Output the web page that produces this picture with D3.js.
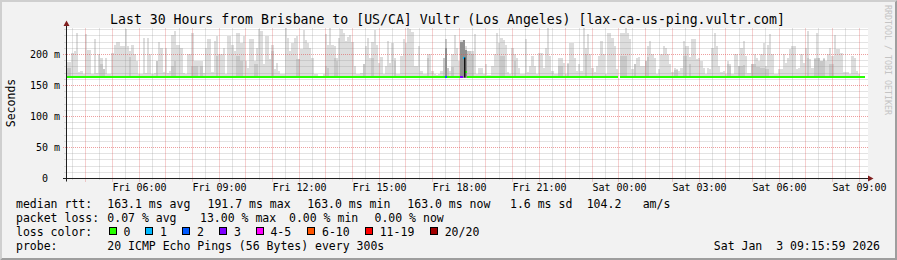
<!DOCTYPE html>
<html>
<head>
<meta charset="utf-8">
<title>SmokePing</title>
<script src="https://cdn.jsdelivr.net/npm/d3@7"></script>
<style>
  body { margin: 0; background: #f2f2f2; }
  svg { display: block; }
  svg text { white-space: pre; }
</style>
</head>
<body>
<div id="chart"></div>
<script>
// Time window of the graph, one step per probe round (300s)
const startTime = new Date(2026, 0, 2, 3, 18);
const endTime = new Date(2026, 0, 3, 9, 18);
const stepMinutes = 5;

// Highest ping of each step in ms (null = no data), 12 steps per row
const smokeMax = [
  188, 188, 203, 205, 234, 172, 173, 168, 233, 207, 207, 169,
  225, 170, 200, 195, 176, 195, 168, 169, 203, 215, 220, 220,
  214, 214, 241, 213, 206, 215, 201, 190, 168, 169, 226, 170,
  226, 201, 168, 170, 190, 220, 211, 172, 210, 170, 174, 231,
  238, 215, 215, 210, 170, 168, 200, 200, 234, 190, 190, 190,
  190, 170, 211, 225, 225, 172, 222, 230, 200, 200, 211, 168,
  229, 229, 216, 206, 234, 234, 219, 230, 190, 179, 225, 225,
  190, 211, 241, 238, 184, 230, 230, 193, 216, 176, 187, 174,
  168, 168, 242, 227, 206, 219, 227, 230, 192, 209, 240, 224,
  219, 211, 195, 168, 168, 166, 166, 168, 233, 216, 242, 216,
  213, 195, 227, 241, 234, 222, 228, 232, 220, 182, 168, 168,
  170, 184, 213, 227, 195, 220, 239, 216, 187, 196, 168, 182,
  222, 187, 219, 195, 168, 168, 198, 225, 219, 242, 241, 236,
  182, 182, 213, 174, 168, 168, 200, 200, 174, 168, 167, 168,
  174, 195, 225, 179, 174, 200, 232, 211, 190, 224, 224, 213,
  206, 206, 206, 233, 168, 179, 179, 168, 184, 167, 167, 182,
  201, 234, 219, 227, 223, 216, 171, 168, 211, 200, 195, 179,
  168, 168, 225, 172, 182, 198, 182, 168, 203, 203, 179, 211,
  242, 198, 174, 168, 168, 195, 195, 187, 168, 187, 219, 219,
  195, 174, 184, 174, 242, 210, 233, 200, 179, 171, 182, 198,
  222, 200, 168, 235, 235, 227, 213, 176, null, 235, 235, 242,
  235, 225, 176, 184, 195, 196, 182, 182, 189, 213, 222, 200,
  195, 168, 176, 200, 213, 211, 200, 184, 171, 179, 176, 174,
  179, 222, 213, 213, 196, 225, 225, 192, 195, 190, 179, 168,
  179, 176, 211, 235, 213, 182, 171, 174, 168, 190, 184, 168,
  200, 200, 182, 211, 222, 198, 170, 170, 184, 201, 195, 190,
  201, 219, 182, 216, 233, 201, 168, 168, 176, 176, 200, 187,
  195, 209, 213, 213, 176, 179, 201, 187, 211, 238, 192, 179,
  195, 235, 195, 190, 195, 190, 201, 211, 198, 232, 209, 209,
  203, 171, 171, 171, 168, 198, 195, 173, 168, 166, 166, null
];

// Inner smoke layer where it shows: [step, ms]
const smokeMid = [
  [0, 179], [1, 179], [15, 184], [16, 176], [28, 196], [40, 190], [47, 182], [48, 190],
  [56, 182], [57, 182], [58, 182], [60, 182], [67, 198], [76, 198], [77, 198], [78, 190],
  [84, 184], [85, 184], [92, 205], [103, 192], [104, 192], [116, 182], [117, 179],
  [120, 195], [121, 190], [133, 184], [137, 195], [147, 190], [162, 195], [169, 195],
  [170, 225], [171, 179], [173, 180], [180, 206], [181, 206], [182, 200], [195, 198],
  [196, 198], [201, 190], [221, 182], [222, 182], [225, 185], [233, 200], [249, 198],
  [250, 198], [251, 198], [255, 184], [260, 189], [261, 196], [273, 175], [274, 175],
  [277, 198], [278, 198], [280, 184], [297, 185], [298, 182], [302, 182], [303, 182],
  [304, 183], [308, 184], [309, 184], [310, 180], [311, 180], [312, 178], [313, 178],
  [314, 176], [315, 176], [333, 195], [336, 193], [337, 195], [338, 195], [339, 190],
  [340, 193], [343, 185], [344, 185]
];

// Dense dark smoke: [step, ms]
const smokeDark = [[170, 210], [177, 220], [178, 224], [179, 207]];

// Median rtt runs: [first step, last step, ms, lost pings]
const medianRuns = [
  [0, 169, 163, 0], [170, 170, 163, 2], [171, 176, 163, 0], [177, 177, 163, 3],
  [178, 178, 195, 1], [179, 179, 172, 0], [180, 247, 163, 0], [249, 358, 163, 0]
];
// Median jump drawn as a vertical stroke: [step, from ms, to ms]
const medianJumps = [[179, 163, 195]];

const yTickValues = [0, 50, 100, 150, 200];
const yTickLabels = ["0  ", "50 m", "100 m", "150 m", "200 m"];
const xTickTimes = ["2026-01-02 06:00", "2026-01-02 09:00", "2026-01-02 12:00", "2026-01-02 15:00",
  "2026-01-02 18:00", "2026-01-02 21:00", "2026-01-03 00:00", "2026-01-03 03:00",
  "2026-01-03 06:00", "2026-01-03 09:00"];
const xTickLabels = ["Fri 06:00", "Fri 09:00", "Fri 12:00", "Fri 15:00", "Fri 18:00",
  "Fri 21:00", "Sat 00:00", "Sat 03:00", "Sat 06:00", "Sat 09:00"];

const lossLabels = ["0", "1", "2", "3", "4-5", "6-10", "11-19", "20/20"];
const lossColors = ["#26ff00", "#00b8ff", "#0059ff", "#7e00ff", "#ff00ff", "#ff5500", "#ff0000", "#a10000"];
const lossUpper = [0, 1, 2, 3, 5, 10, 19, 20];

const medianStats = ["163.1 ms avg", "191.7 ms max", "163.0 ms min", "163.0 ms now", "1.6 ms sd", "104.2", "am/s"];
const lossStats = ["0.07 % avg", "13.00 % max", "0.00 % min", "0.00 % now"];

const title = "Last 30 Hours from Brisbane to [US/CA] Vultr (Los Angeles) [lax-ca-us-ping.vultr.com]";
const probeText = "20 ICMP Echo Pings (56 Bytes) every 300s";
const stampText = "Sat Jan  3 09:15:59 2026";

// layout
const W = 897, H = 260;
const plot = { left: 67, right: 867, top: 28.5, bottom: 178.5 };
const font = "'DejaVu Sans Mono', monospace";

const x = d3.scaleTime().domain([startTime, endTime]).range([plot.left, plot.right]);
const y = d3.scaleLinear().domain([0, 241.9]).range([plot.bottom, plot.top]);
const stepX = (i) => x(d3.timeMinute.offset(startTime, i * stepMinutes));
const crisp = (v) => Math.floor(v) + 0.5;

const svg = d3.select("#chart").append("svg")
  .attr("width", W).attr("height", H)
  .style("font-family", font);

// background and 3d frame
svg.append("rect").attr("width", W).attr("height", H).attr("fill", "#f2f2f2");
svg.append("path").attr("d", `M0,0H${W}L${W - 2},2H2V${H - 2}L0,${H}Z`).attr("fill", "#cfcfcf");
svg.append("path").attr("d", `M${W},0V${H}H0L2,${H - 2}H${W - 2}V2Z`).attr("fill", "#9e9e9e");

// canvas
svg.append("rect")
  .attr("x", plot.left).attr("y", 28)
  .attr("width", plot.right - plot.left + 1).attr("height", 150)
  .attr("fill", "#ffffff");

// smoke
const smoke = svg.append("g").attr("shape-rendering", "crispEdges");
const base = 162.5;
function drawSmoke(rows, color) {
  smoke.append("g").selectAll("rect")
    .data(rows)
    .enter()
    .append("rect")
    .attr("x", (d) => stepX(d[0]))
    .attr("width", (d) => stepX(d[0] + 1) - stepX(d[0]))
    .attr("y", (d) => y(d[1]))
    .attr("height", (d) => y(base) - y(d[1]))
    .attr("fill", color);
}
drawSmoke(smokeMax.map((v, i) => [i, v]).filter((d) => d[1] != null), "#dddddd");
drawSmoke(smokeMid, "#c8c8c8");
drawSmoke(smokeDark, "#8f8f8f");

// grid
const grid = svg.append("g").attr("stroke-dasharray", "1,1").attr("stroke-width", 1);
const halfHours = x.ticks(d3.timeMinute.every(30));
grid.selectAll("line.vminor")
  .data(halfHours.filter((t) => t.getMinutes() === 30))
  .enter().append("line")
  .attr("x1", (t) => crisp(x(t))).attr("x2", (t) => crisp(x(t)))
  .attr("y1", plot.top).attr("y2", 180.5)
  .attr("stroke", "rgba(143,143,143,0.5)");
grid.selectAll("line.hminor")
  .data(y.ticks(25).filter((v) => v % 50 !== 0))
  .enter().append("line")
  .attr("x1", 64.5).attr("x2", plot.right + 1)
  .attr("y1", (v) => crisp(y(v))).attr("y2", (v) => crisp(y(v)))
  .attr("stroke", "rgba(143,143,143,0.5)");
grid.selectAll("line.vmajor")
  .data(halfHours.filter((t) => t.getMinutes() === 0))
  .enter().append("line")
  .attr("x1", (t) => crisp(x(t))).attr("x2", (t) => crisp(x(t)))
  .attr("y1", plot.top).attr("y2", 181.5)
  .attr("stroke", "rgba(222,80,80,0.55)");
grid.selectAll("line.hmajor")
  .data(yTickValues.filter((v) => v > 0))
  .enter().append("line")
  .attr("x1", 63).attr("x2", plot.right + 1)
  .attr("y1", (v) => crisp(y(v))).attr("y2", (v) => crisp(y(v)))
  .attr("stroke", "rgba(222,80,80,0.55)");

// median rtt coloured by loss
const lossIndex = (n) => lossUpper.findIndex((u) => n <= u);
svg.append("g").selectAll("line")
  .data(medianRuns)
  .enter().append("line")
  .attr("x1", (d) => stepX(d[0]))
  .attr("x2", (d) => stepX(d[1] + 1))
  .attr("y1", (d) => Math.round(y(d[2])))
  .attr("y2", (d) => Math.round(y(d[2])))
  .attr("stroke", (d) => lossColors[lossIndex(d[3])])
  .attr("stroke-width", 2)
  .attr("shape-rendering", "crispEdges");
svg.append("g").selectAll("line")
  .data(medianJumps)
  .enter().append("line")
  .attr("x1", (d) => stepX(d[0])).attr("x2", (d) => stepX(d[0]))
  .attr("y1", (d) => y(d[1])).attr("y2", (d) => y(d[2]))
  .attr("stroke", "#000").attr("stroke-width", 1.3);

// axes lines and arrows
svg.append("path").attr("d", `M63,${plot.bottom}H868`).attr("stroke", "#1f1f1f");
svg.append("path").attr("d", `M66.5,181.5V24`).attr("stroke", "#1f1f1f");
svg.append("path").attr("d", `M868,175.5L873.5,178.5L868,181.5Z`).attr("fill", "#801f1f");
svg.append("path").attr("d", `M63.5,26L66.5,20.5L69.5,26Z`).attr("fill", "#801f1f");

// tick labels through d3 axes
const xParse = d3.timeParse("%Y-%m-%d %H:%M");
const xAxis = svg.append("g")
  .attr("transform", `translate(0,${plot.bottom})`)
  .call(d3.axisBottom(x)
    .tickValues(xTickTimes.map(xParse))
    .tickFormat((d, i) => xTickLabels[i])
    .tickSize(0).tickPadding(5.5));
xAxis.select(".domain").remove();
xAxis.attr("font-family", font).attr("font-size", 10).attr("color", "#000");

const yAxis = svg.append("g")
  .attr("transform", "translate(60,0)")
  .call(d3.axisLeft(y)
    .tickValues(yTickValues)
    .tickFormat((d, i) => yTickLabels[i])
    .tickSize(0).tickPadding(0));
yAxis.select(".domain").remove();
yAxis.attr("font-family", font).attr("font-size", 10).attr("color", "#000");

// title, unit, watermark
svg.append("text")
  .attr("x", 447.5).attr("y", 24)
  .attr("text-anchor", "middle")
  .attr("font-size", 13.2)
  .text(title);

svg.append("text")
  .attr("transform", "translate(11,103) rotate(-90)")
  .attr("text-anchor", "middle")
  .attr("dominant-baseline", "central")
  .attr("font-size", 11.5)
  .text("Seconds");

svg.append("text")
  .attr("transform", "translate(885,5) rotate(90)")
  .attr("font-size", 8.3)
  .attr("fill", "#c4c4c4")
  .text("RRDTOOL / TOBI OETIKER");

// legend
const legend = svg.append("g").attr("font-size", 11.5).attr("fill", "#000");
const rows = [207.5, 222, 236, 250];
function legendText(xPos, row, str, anchor) {
  legend.append("text")
    .attr("x", xPos).attr("y", rows[row])
    .attr("text-anchor", anchor || "start")
    .text(str);
}

legendText(16, 0, "median rtt:");
[107.3, 207.5, 307.3, 407.3, 510, 586.7, 642.7].forEach((px, i) => legendText(px, 0, medianStats[i]));

legendText(16, 1, "packet loss:");
[107.3, 200, 289, 374.5].forEach((px, i) => legendText(px, 1, lossStats[i]));

legendText(16, 2, "loss color:");
const swatchX = [108.7, 145.3, 182.3, 219.3, 255.7, 307.3, 365, 430];
legend.selectAll("rect.swatch")
  .data(lossLabels)
  .enter().append("rect")
  .attr("x", (d, i) => Math.round(swatchX[i]) + 0.5)
  .attr("y", 227.5)
  .attr("width", 7).attr("height", 7)
  .attr("fill", (d, i) => lossColors[i])
  .attr("stroke", "#000").attr("stroke-width", 1);
lossLabels.forEach((lab, i) => legendText(swatchX[i] + 14.7, 2, lab));

legendText(16, 3, "probe:");
legendText(107.3, 3, probeText);
legendText(880, 3, stampText, "end");
</script>
</body>
</html>
